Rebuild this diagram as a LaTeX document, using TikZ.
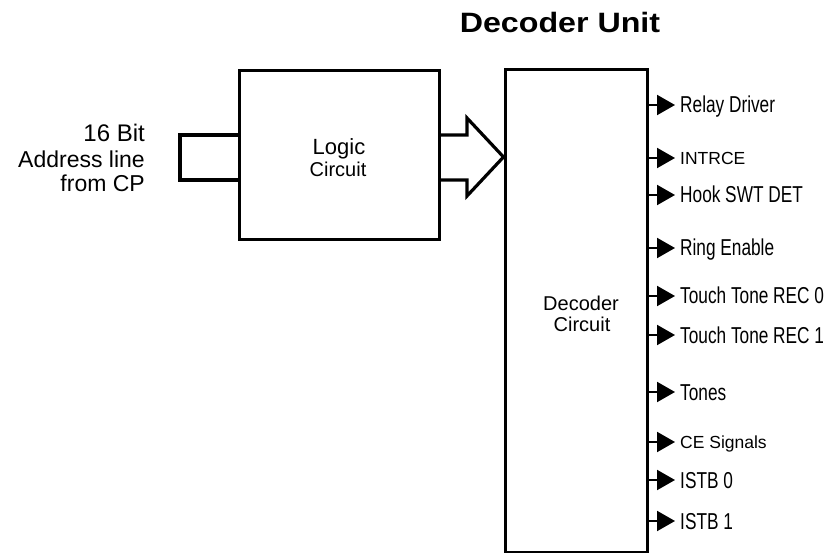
\documentclass[tikz,border=0pt]{standalone}
\usepackage{fontspec}
\setmainfont{Liberation Sans}
\newfontfamily\narrowsf[FakeStretch=0.75]{Liberation Sans}
\newfontfamily\widesf[FakeStretch=1.15]{Liberation Sans}
\usetikzlibrary{arrows.meta,calc}

\begin{document}
\begin{tikzpicture}[x=1pt, y=-1pt,
      blockc/.style={rectangle, draw, line width=3pt, inner sep=0pt},
      intxt/.style={anchor=base, inner sep=0pt},
      fatarr/.style={line width=3.2pt, line join=miter},
      inbus/.style={line width=4pt},
      outarr/.style={-{Triangle[length=18pt,width=20pt]}, line width=2pt},
      biglbl/.style={anchor=base west, inner sep=0pt, font=\narrowsf\fontsize{23}{26}\selectfont},
      smalllbl/.style={anchor=base west, inner sep=0pt, font=\fontsize{17.5}{21}\selectfont},
      leftlbl/.style={anchor=base east, inner sep=0pt},
    ]
    \useasboundingbox (0,0) rectangle (827,553);

    \node[anchor=base, font=\widesf\bfseries\fontsize{28}{32}\selectfont] (title) at (560,33) {Decoder Unit};

    % source of the address bus
    \node[leftlbl, font=\fontsize{24}{28}\selectfont] (bits) at (145,142) {16 Bit};
    \node[leftlbl, font=\fontsize{23}{27}\selectfont] (addr) at (145,168) {Address line};
    \node[leftlbl, font=\fontsize{23}{27}\selectfont] (from) at (145,192) {from CP};

    \node[blockc, minimum width=200, minimum height=169] (logic) at (339,155.5) {};
    \node[intxt, font=\fontsize{22}{24}\selectfont] (logic1) at (339,155) {Logic};
    \node[intxt, font=\fontsize{20}{22}\selectfont] (logic2) at (338,177) {Circuit};

    \node[blockc, minimum width=142, minimum height=482] (dec) at (576,311) {};
    \node[intxt, font=\fontsize{20}{22}\selectfont] (dec1) at (581,310) {Decoder};
    \node[intxt, font=\fontsize{20}{22}\selectfont] (dec2) at (582,331) {Circuit};

    \draw[inbus] (logic.west |- 0,135) -- (180,135) -- (180,180) -- (logic.west |- 0,180);
    \draw[fatarr] (logic.east |- 0,135) -- (467,135) -- (467,118) -- (dec.west |- 0,157)
      -- (467,196) -- (467,180) -- (logic.east |- 0,180);

    % decoder outputs
    \foreach \i/\yy/\txt/\st/\dy in {1/105/Relay Driver/biglbl/8, 2/158/INTRCE/smalllbl/6.3,
        3/195/Hook SWT DET/biglbl/8, 4/248/Ring Enable/biglbl/8, 5/296/Touch Tone REC 0/biglbl/8,
        6/335/Touch Tone REC 1/biglbl/8, 7/392/Tones/biglbl/8, 8/442/CE Signals/smalllbl/6.3,
        9/480/ISTB 0/biglbl/8, 10/521/ISTB 1/biglbl/8}
    {
      \coordinate (t\i) at (675,\yy);
      \node[\st] (o\i) at (680,\yy+\dy) {\txt};
      \draw[outarr] (dec.east |- t\i) -- (t\i);
    }
  \end{tikzpicture}
\end{document}
